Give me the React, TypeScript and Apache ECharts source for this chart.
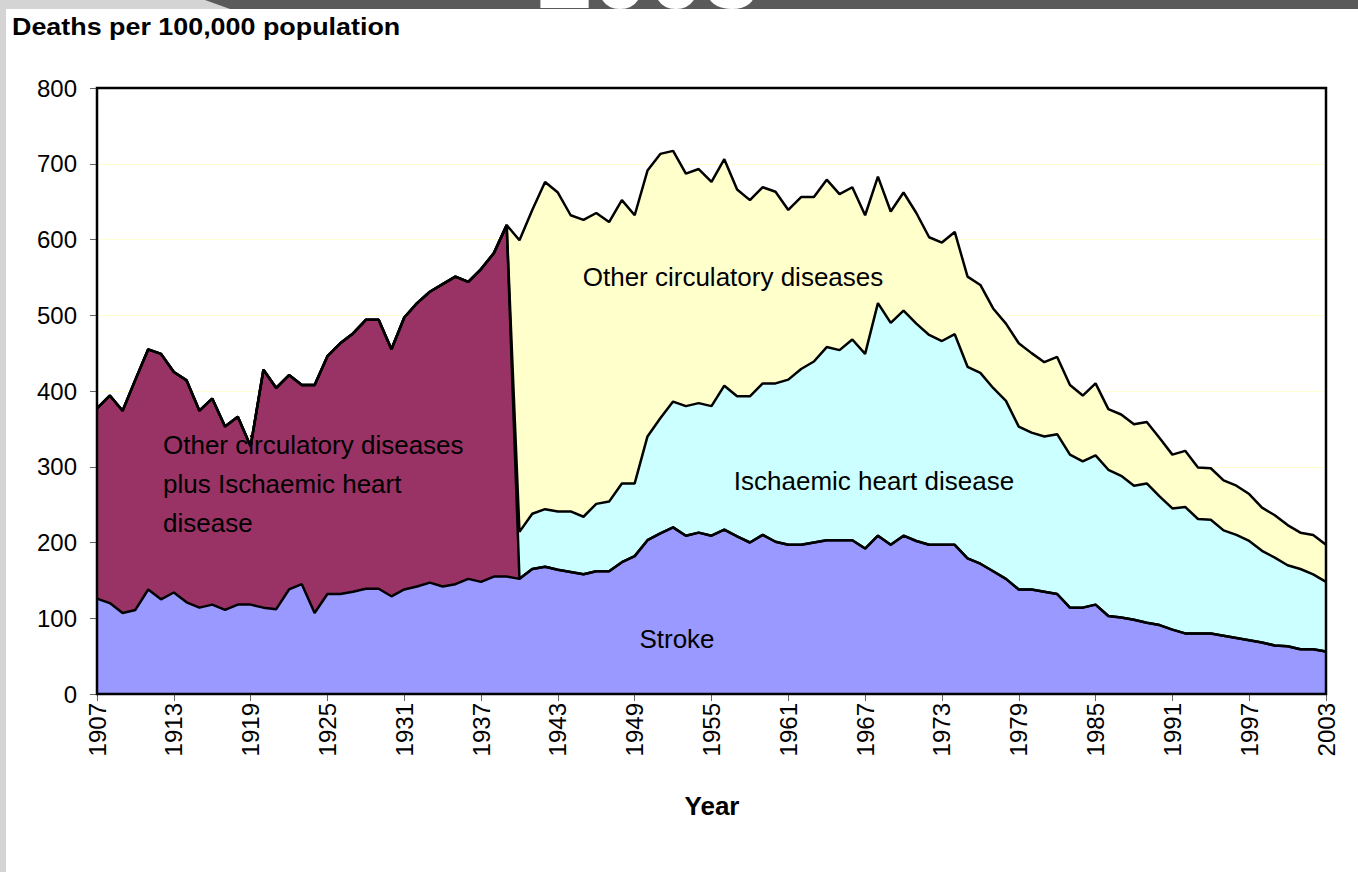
import React, { useEffect, useRef } from "react";
import * as echarts from "echarts";

const FIRST_YEAR = 1907;
const LAST_YEAR = 2003;
const years: string[] = [];
for (let y = FIRST_YEAR; y <= LAST_YEAR; y++) years.push(String(y));

// Stroke, 1907-2003
const strokeValues = [
  126, 120, 107, 111, 138, 125, 134, 121, 114, 118,
  111, 118, 118, 114, 112, 138, 145, 107, 132, 132,
  135, 139, 139, 129, 138, 142, 147, 142, 145, 152,
  148, 155, 155, 152, 165, 168, 164, 161, 158, 162,
  162, 174, 182, 203, 212, 220, 209, 213, 209, 217,
  208, 200, 210, 201, 197, 197, 200, 203, 203, 203,
  192, 209, 197, 209, 202, 197, 197, 197, 179, 172,
  162, 152, 138, 138, 135, 132, 114, 114, 118, 103,
  101, 98, 94, 91, 85, 80, 80, 80, 77, 74,
  71, 68, 64, 63, 59, 59, 56,
];

// Other circulatory diseases plus Ischaemic heart disease, 1907-1939
const combinedValues = [
  251, 274, 267, 304, 317, 324, 291, 293, 260, 272,
  242, 248, 209, 314, 292, 283, 263, 301, 314, 331,
  341, 355, 355, 326, 359, 374, 384, 399, 406, 392,
  413, 427, 464,
];

// Ischaemic heart disease, 1940-2003
const ihdValues = [
  62, 73, 76, 77, 80, 76, 89, 92, 104, 96,
  137, 152, 166, 171, 171, 171, 190, 185, 193, 200,
  209, 218, 232, 239, 255, 251, 265, 257, 307, 293,
  297, 287, 277, 269, 278, 253, 252, 242, 235, 215,
  207, 205, 211, 202, 193, 197, 193, 187, 177, 184,
  170, 160, 167, 151, 150, 139, 136, 131, 121, 116,
  107, 106, 99, 92,
];

// Other circulatory diseases, 1940-2003
const otherValues = [
  385, 401, 432, 421, 391, 392, 384, 369, 374, 354,
  351, 349, 331, 307, 309, 296, 299, 273, 259, 259,
  253, 224, 227, 217, 221, 206, 201, 183, 167, 147,
  156, 146, 129, 130, 135, 119, 116, 105, 102, 110,
  105, 98, 102, 92, 87, 95, 80, 81, 81, 81,
  77, 71, 74, 68, 68, 66, 65, 62, 57, 56,
  53, 48, 52, 49,
];

const yTicks = [0, 100, 200, 300, 400, 500, 600, 700, 800];

const FONT = '"Liberation Sans", Arial, sans-serif';

function padAfter(vals: number[], total: number) {
  const out = vals.slice();
  while (out.length < total) out.push(0);
  return out;
}
function padBefore(vals: number[], total: number) {
  const out: number[] = [];
  while (out.length + vals.length < total) out.push(0);
  return out.concat(vals);
}

export default function App() {
  const ref = useRef<HTMLDivElement>(null);
  useEffect(() => {
    if (!ref.current) return;
    const chart = echarts.init(ref.current, undefined, { renderer: "svg" });
    const n = years.length;
    const gridLeft = 97, gridTop = 88, gridW = 1229, gridH = 606;
    const mk = (name: string, data: number[], color: string) => ({
      name,
      type: "line",
      stack: "total",
      data,
      symbol: "none",
      showSymbol: false,
      lineStyle: { color: "#000", width: 2.5 },
      areaStyle: { color, opacity: 1 },
      emphasis: { disabled: true },
      silent: true,
    });
    const label = (text: string, x: number, y: number, align: string) => ({
      type: "text",
      x,
      y,
      style: { text, fill: "#000", fontSize: 26, fontFamily: FONT, align, verticalAlign: "middle" },
      z: 60,
    });
    chart.setOption({
      animation: false,
      backgroundColor: "#fff",
      grid: { left: gridLeft, top: gridTop, width: gridW, height: gridH },
      xAxis: {
        type: "category",
        data: years,
        boundaryGap: false,
        axisLine: { lineStyle: { color: "#000", width: 2 } },
        axisTick: { interval: 5, length: 7, lineStyle: { color: "#666", width: 1 } },
        axisLabel: {
          interval: 5,
          rotate: 90,
          margin: 9,
          fontSize: 24,
          color: "#000",
          fontFamily: FONT,
        },
        splitLine: { show: false },
      },
      yAxis: {
        type: "value",
        min: yTicks[0],
        max: yTicks[yTicks.length - 1],
        interval: 100,
        axisLine: { show: true, lineStyle: { color: "#000", width: 2 } },
        axisTick: { show: true, length: 7, lineStyle: { color: "#666", width: 1 } },
        axisLabel: { margin: 20, fontSize: 24, color: "#000", fontFamily: FONT },
        splitLine: { show: true, lineStyle: { color: "#FFFFD2", width: 1 } },
      },
      series: [
        mk("Stroke", strokeValues, "#9999FF"),
        mk("Other circulatory diseases plus Ischaemic heart disease", padAfter(combinedValues, n), "#993366"),
        mk("Ischaemic heart disease", padBefore(ihdValues, n), "#CCFFFF"),
        mk("Other circulatory diseases", padBefore(otherValues, n), "#FFFFCC"),
      ],
      graphic: [
        { type: "rect", shape: { x: 0, y: 0, width: 6, height: 872 }, style: { fill: "#d4d4d4" }, z: 1 },
        { type: "rect", shape: { x: 0, y: 0, width: 1358, height: 9 }, style: { fill: "#d4d4d4" }, z: 1 },
        {
          type: "polygon",
          shape: { points: [[205, 0], [1358, 0], [1358, 9], [230, 9]] },
          style: { fill: "#5a5a5a" },
          z: 2,
        },
        {
          type: "text",
          x: 537,
          y: -27,
          style: {
            text: "2003",
            fill: "#fff",
            fontSize: 100,
            fontWeight: "bold",
            fontFamily: FONT,
            align: "left",
            verticalAlign: "middle",
          },
          z: 3,
        },
        {
          type: "text",
          x: 12,
          y: 27,
          scaleX: 1.12,
          style: {
            text: "Deaths per 100,000 population",
            fill: "#000",
            fontSize: 24,
            fontWeight: "bold",
            fontFamily: FONT,
            align: "left",
            verticalAlign: "middle",
          },
          z: 10,
        },
        {
          type: "text",
          x: 712,
          y: 806,
          style: {
            text: "Year",
            fill: "#000",
            fontSize: 26,
            fontWeight: "bold",
            fontFamily: FONT,
            align: "center",
            verticalAlign: "middle",
          },
          z: 10,
        },
        {
          type: "rect",
          shape: { x: gridLeft, y: gridTop, width: gridW, height: gridH },
          style: { fill: "none", stroke: "#000", lineWidth: 2.5 },
          z: 50,
          silent: true,
        },
        label("Other circulatory diseases", 733, 277, "center"),
        label("Ischaemic heart disease", 874, 481, "center"),
        label("Stroke", 677, 639, "center"),
        label("Other circulatory diseases", 163, 445, "left"),
        label("plus Ischaemic heart", 163, 484, "left"),
        label("disease", 163, 523, "left"),
      ],
    });
    return () => chart.dispose();
  }, []);
  return (
    <div
      ref={ref}
      style={{ position: "absolute", left: 0, top: 0, width: 1358, height: 872, background: "#fff" }}
    />
  );
}
